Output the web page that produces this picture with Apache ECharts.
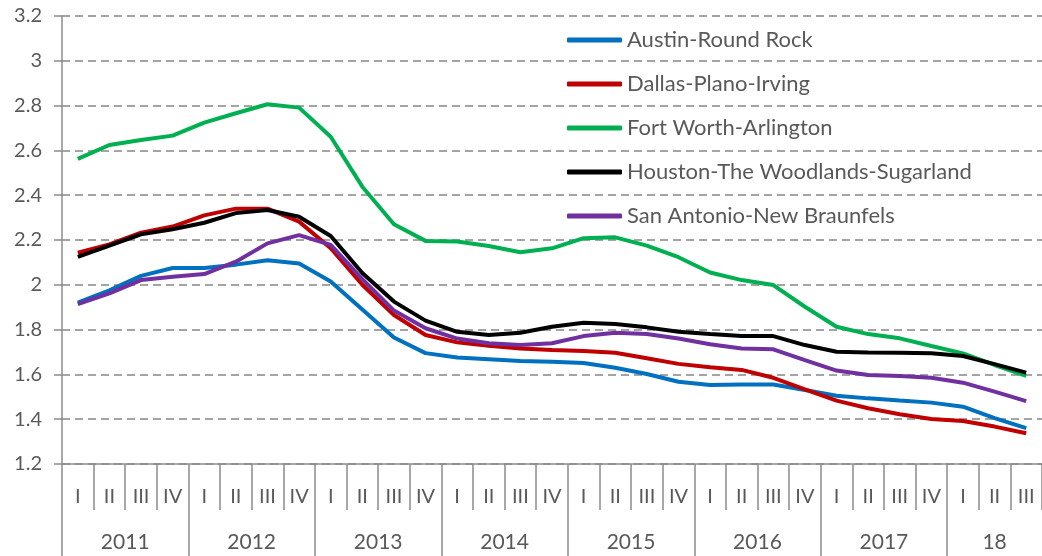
<!DOCTYPE html>
<html>
<head>
<meta charset="utf-8">
<script src="https://cdn.jsdelivr.net/npm/echarts@6/dist/echarts.min.js"></script>
<style>
html, body { margin: 0; padding: 0; background: #fff; }
#chart { width: 1042px; height: 556px; }
</style>
</head>
<body>
<div id="chart"></div>
<script>
// quarters 2011 I .. 2018 III
var quarters = ['I','II','III','IV','I','II','III','IV','I','II','III','IV','I','II','III','IV',
  'I','II','III','IV','I','II','III','IV','I','II','III','IV','I','II','III'];
var years = ['2011','2012','2013','2014','2015','2016','2017','18'];

var austin = [1.92,1.975,2.04,2.075,2.075,2.09,2.11,2.095,2.015,1.89,1.765,1.695,1.675,1.668,1.66,1.657,
  1.651,1.63,1.602,1.567,1.553,1.555,1.555,1.53,1.505,1.493,1.483,1.474,1.456,1.405,1.36];
var dallas = [2.143,2.18,2.233,2.26,2.31,2.34,2.34,2.282,2.163,2.0,1.865,1.776,1.743,1.728,1.716,1.709,
  1.704,1.697,1.672,1.647,1.632,1.62,1.585,1.533,1.483,1.449,1.422,1.401,1.392,1.367,1.337];
var fortWorth = [2.562,2.624,2.646,2.666,2.724,2.766,2.806,2.791,2.661,2.438,2.27,2.196,2.193,2.173,2.145,2.163,
  2.208,2.212,2.175,2.123,2.055,2.021,1.999,1.902,1.813,1.78,1.761,1.727,1.694,1.642,1.594];
var houston = [2.125,2.175,2.225,2.248,2.277,2.32,2.334,2.304,2.218,2.053,1.925,1.84,1.79,1.776,1.786,1.813,
  1.831,1.825,1.81,1.79,1.78,1.771,1.771,1.731,1.701,1.698,1.697,1.694,1.682,1.646,1.608];
var sanAntonio = [1.914,1.962,2.021,2.036,2.048,2.103,2.185,2.222,2.178,2.025,1.885,1.806,1.76,1.739,1.731,1.739,
  1.771,1.786,1.78,1.76,1.735,1.716,1.712,1.664,1.617,1.597,1.593,1.585,1.563,1.523,1.481];

var names = ['Austin-Round Rock','Dallas-Plano-Irving','Fort Worth-Arlington',
  'Houston-The Woodlands-Sugarland','San Antonio-New Braunfels'];
var colors = ['#0070C0','#C00000','#00B050','#000000','#7030A0'];
var values = [austin, dallas, fortWorth, houston, sanAntonio];

// second axis: half-quarter boundaries, year separators every 8 slots
var halfSlots = [];
var yearLabelAt = {};
for (var y = 0; y < years.length; y++) {
  var start = y * 8;
  var end = Math.min(start + 8, quarters.length * 2);
  yearLabelAt[(start + end) / 2] = years[y];
}
for (var k = 0; k <= quarters.length * 2; k++) {
  halfSlots.push(yearLabelAt[k] || '');
}

var font = 'Lato, "Open Sans", sans-serif';
var textColor = '#595959';
var axisGray = '#8c8c8c';

var chart = echarts.init(document.getElementById('chart'));
chart.setOption({
  animation: false,
  textStyle: { fontFamily: font },
  grid: { left: 62, top: 16, width: 986, bottom: 92 },
  legend: {
    orient: 'vertical',
    left: 562,
    top: 24,
    icon: 'roundRect',
    itemWidth: 55,
    itemHeight: 5,
    itemGap: 22,
    data: names,
    textStyle: { fontSize: 22, color: textColor, fontFamily: font }
  },
  xAxis: [
    {
      type: 'category',
      data: quarters,
      boundaryGap: true,
      axisLine: { lineStyle: { color: axisGray, width: 1.5 } },
      axisTick: { show: true, interval: 0, length: 46, lineStyle: { color: axisGray, width: 1.5 } },
      axisLabel: { interval: 0, margin: 23, fontSize: 20, color: textColor }
    },
    {
      type: 'category',
      data: halfSlots,
      position: 'bottom',
      boundaryGap: false,
      axisLine: { show: false },
      axisTick: {
        show: true, length: 92,
        interval: function (i) { return i % 8 === 0; },
        lineStyle: { color: axisGray, width: 1.5 }
      },
      axisLabel: {
        margin: 68, fontSize: 21, color: textColor,
        interval: function (i, v) { return v !== ''; }
      }
    }
  ],
  yAxis: {
    type: 'value',
    min: 1.2,
    max: 3.2,
    interval: 0.2,
    axisLine: { show: true, lineStyle: { color: axisGray, width: 1.5 } },
    axisTick: { show: true, length: 8, lineStyle: { color: axisGray, width: 1.5 } },
    axisLabel: { margin: 20, fontSize: 20, color: textColor },
    splitLine: { lineStyle: { color: '#868686', width: 1.5, type: [8, 5] } }
  },
  series: names.map(function (n, i) {
    return {
      name: n,
      type: 'line',
      data: values[i],
      symbol: 'none',
      smooth: false,
      color: colors[i],
      lineStyle: { width: 4, color: colors[i] }
    };
  })
});
</script>
</body>
</html>
